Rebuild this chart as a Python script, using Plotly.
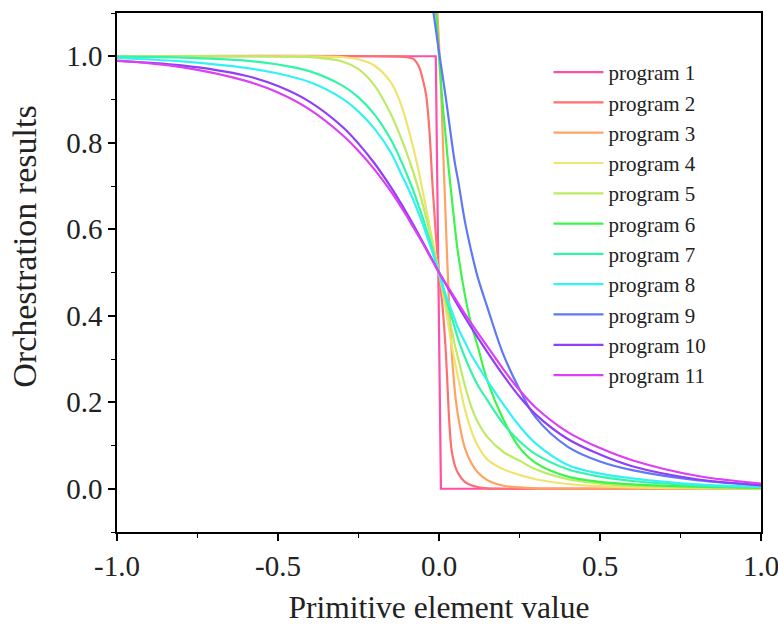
import plotly.graph_objects as go

# ---------------- data ----------------
X_GRID = [-1.0, -0.8, -0.6, -0.5, -0.4, -0.3, -0.25, -0.2, -0.15, -0.12, -0.1, -0.08,
          -0.06, -0.05, -0.04, -0.03, -0.02, -0.01, 0.0, 0.01, 0.02, 0.03, 0.04, 0.05,
          0.06, 0.08, 0.1, 0.12, 0.15, 0.2, 0.25, 0.3, 0.4, 0.5, 0.6, 0.8, 1.0]

P1_X = [-1.0, -0.01, 0.006, 1.0]
P1_Y = [1.0, 1.0, 0.0, 0.0]

P2_X = [-1.0, -0.2, -0.1, -0.08, -0.07, -0.06, -0.05, -0.04, -0.03, -0.02, -0.01, 0.0,
        0.01, 0.02, 0.025, 0.03, 0.035, 0.04, 0.05, 0.06, 0.08, 0.1, 0.12, 0.15, 0.2, 1.0]
P2_Y = [1.0, 1.0, 0.998, 0.994, 0.986, 0.972, 0.945, 0.91, 0.83, 0.7, 0.59, 0.5,
        0.43, 0.33, 0.26, 0.18, 0.12, 0.085, 0.052, 0.035, 0.016, 0.008, 0.004, 0.001, 0.0, 0.0]

P3_X = [-0.012, -0.005, 0.0, 0.005, 0.01, 0.015, 0.02, 0.025, 0.03, 0.035, 0.04, 0.05,
        0.06, 0.08, 0.1, 0.12, 0.15, 0.2, 0.25, 0.3, 0.5, 1.0]
P3_Y = [1.2, 1.1, 1.03, 0.95, 0.85, 0.74, 0.64, 0.54, 0.45, 0.38, 0.31, 0.22,
        0.165, 0.095, 0.06, 0.038, 0.02, 0.007, 0.003, 0.001, 0.0, 0.0]

P4_Y = [1.0, 1.0, 1.0, 1.0, 1.0, 0.998, 0.993, 0.978, 0.94, 0.893, 0.845, 0.789,
        0.723, 0.686, 0.648, 0.61, 0.573, 0.536, 0.5, 0.46, 0.42, 0.375, 0.33, 0.29,
        0.255, 0.185, 0.135, 0.1, 0.068, 0.045, 0.032, 0.022, 0.011, 0.006, 0.003, 0.001, 0.0]

P5_Y = [1.0, 1.0, 1.0, 0.999, 0.998, 0.988, 0.97, 0.932, 0.867, 0.815, 0.776, 0.732,
        0.683, 0.656, 0.627, 0.597, 0.565, 0.533, 0.5, 0.47, 0.435, 0.4, 0.365, 0.33,
        0.3, 0.24, 0.19, 0.155, 0.12, 0.085, 0.065, 0.045, 0.022, 0.012, 0.007, 0.003, 0.001]

P6_X = [-0.015, -0.009, 0.0, 0.01, 0.02, 0.03, 0.04, 0.05, 0.06, 0.08, 0.1, 0.12, 0.15,
        0.2, 0.25, 0.3, 0.4, 0.5, 0.6, 0.8, 1.0]
P6_Y = [1.15, 1.1, 1.0, 0.9, 0.82, 0.74, 0.67, 0.6, 0.54, 0.45, 0.38, 0.33, 0.25,
        0.16, 0.095, 0.06, 0.028, 0.016, 0.01, 0.005, 0.002]

P7_Y = [0.999, 0.997, 0.99, 0.981, 0.965, 0.932, 0.905, 0.865, 0.808, 0.762, 0.727, 0.69,
        0.647, 0.625, 0.601, 0.577, 0.552, 0.526, 0.5, 0.472, 0.445, 0.42, 0.395, 0.37,
        0.345, 0.305, 0.27, 0.24, 0.205, 0.15, 0.11, 0.08, 0.045, 0.028, 0.018, 0.008, 0.004]

P8_Y = [0.996, 0.988, 0.973, 0.96, 0.94, 0.902, 0.872, 0.832, 0.778, 0.732, 0.701, 0.668,
        0.631, 0.611, 0.59, 0.568, 0.546, 0.523, 0.5, 0.475, 0.45, 0.43, 0.41, 0.39,
        0.37, 0.34, 0.31, 0.285, 0.25, 0.195, 0.145, 0.105, 0.055, 0.035, 0.024, 0.01, 0.005]

P9_X = [-0.025, -0.017, 0.0, 0.02, 0.04, 0.05, 0.06, 0.08, 0.1, 0.12, 0.15, 0.2, 0.25,
        0.3, 0.4, 0.5, 0.6, 0.8, 1.0]
P9_Y = [1.14, 1.1, 1.01, 0.91, 0.8, 0.75, 0.71, 0.62, 0.55, 0.49, 0.42, 0.31, 0.23,
        0.165, 0.097, 0.063, 0.043, 0.02, 0.009]

P10_Y = [0.989, 0.979, 0.955, 0.931, 0.894, 0.837, 0.798, 0.752, 0.698, 0.662, 0.637, 0.611,
         0.584, 0.57, 0.556, 0.542, 0.528, 0.514, 0.5, 0.487, 0.474, 0.461, 0.448, 0.435,
         0.422, 0.397, 0.373, 0.35, 0.316, 0.262, 0.213, 0.172, 0.115, 0.079, 0.052, 0.022, 0.008]

P11_Y = [0.99, 0.975, 0.943, 0.916, 0.876, 0.818, 0.781, 0.738, 0.688, 0.654, 0.63, 0.605,
         0.58, 0.567, 0.554, 0.54, 0.527, 0.513, 0.5, 0.488, 0.476, 0.464, 0.452, 0.44,
         0.428, 0.405, 0.383, 0.361, 0.329, 0.276, 0.228, 0.188, 0.131, 0.094, 0.066, 0.03, 0.012]

NAMES = ["program 1", "program 2", "program 3", "program 4", "program 5", "program 6",
         "program 7", "program 8", "program 9", "program 10", "program 11"]
COLORS = ["#ff4fa8", "#ff6f6f", "#ffa264", "#eee46e", "#bdeb66", "#3cf54b",
          "#33f5a8", "#33f2f5", "#5f78f5", "#8f3ff5", "#db40f5"]

X_TICKS = [-1.0, -0.5, 0.0, 0.5, 1.0]
X_TICK_TEXT = ["-1.0", "-0.5", "0.0", "0.5", "1.0"]
Y_TICKS = [0.0, 0.2, 0.4, 0.6, 0.8, 1.0]
Y_TICK_TEXT = ["0.0", "0.2", "0.4", "0.6", "0.8", "1.0"]

X_TITLE = "Primitive element value"
Y_TITLE = "Orchestration results"

SERIES = [
    (P1_X, P1_Y), (P2_X, P2_Y), (P3_X, P3_Y), (X_GRID, P4_Y), (X_GRID, P5_Y),
    (P6_X, P6_Y), (X_GRID, P7_Y), (X_GRID, P8_Y), (P9_X, P9_Y), (X_GRID, P10_Y),
    (X_GRID, P11_Y),
]

# ---------------- figure ----------------
FONT = "Liberation Serif, Times New Roman, serif"
fig = go.Figure()
for i, ((xs, ys), name, col) in enumerate(zip(SERIES, NAMES, COLORS)):
    shape = "linear" if i == 0 else "spline"
    fig.add_trace(go.Scatter(x=xs, y=ys, mode="lines", name=name,
                             line=dict(color=col, width=2.2, shape=shape, smoothing=1.0)))

axis_common = dict(showline=True, linecolor="black", linewidth=1.5, mirror=True,
                   ticks="outside", ticklen=7, tickwidth=1.5, tickcolor="black",
                   showgrid=False, zeroline=False, ticklabeloverflow="allow",
                   tickfont=dict(family=FONT, size=29, color="#222"))

fig.update_xaxes(range=[-1, 1], tickvals=X_TICKS, ticktext=X_TICK_TEXT,
                 minor=dict(ticks="outside", ticklen=4, tickwidth=1.2, tickcolor="black",
                            dtick=0.25, tick0=-1, showgrid=False),
                 title=dict(text=X_TITLE,
                            font=dict(family=FONT, size=31.5, color="#222"), standoff=16),
                 **axis_common)
fig.update_yaxes(range=[-0.1, 1.1], tickvals=Y_TICKS, ticktext=Y_TICK_TEXT,
                 minor=dict(ticks="outside", ticklen=4, tickwidth=1.2, tickcolor="black",
                            dtick=0.1, tick0=0, showgrid=False),
                 **axis_common)

# y-axis title sits a little above the axis centre in the reference
fig.add_annotation(text=Y_TITLE, xref="paper", yref="paper", x=-0.145, y=0.549,
                   xanchor="center", yanchor="middle", textangle=-90, showarrow=False,
                   font=dict(family=FONT, size=34, color="#222"))

fig.update_layout(
    width=778, height=625,
    margin=dict(l=117, r=17, t=13, b=93, autoexpand=False),
    plot_bgcolor="white", paper_bgcolor="white",
    legend=dict(x=0.67, y=0.925, xanchor="left", yanchor="top",
                bgcolor="rgba(0,0,0,0)", borderwidth=0,
                font=dict(family=FONT, size=21, color="#222"),
                itemwidth=50, tracegroupgap=0),
    showlegend=True,
)

# remove the browser's default 8px body margin so the figure fills the window
fig.write_html("out.html", config={"displayModeBar": False},
               post_script="document.body.style.margin='0';")
